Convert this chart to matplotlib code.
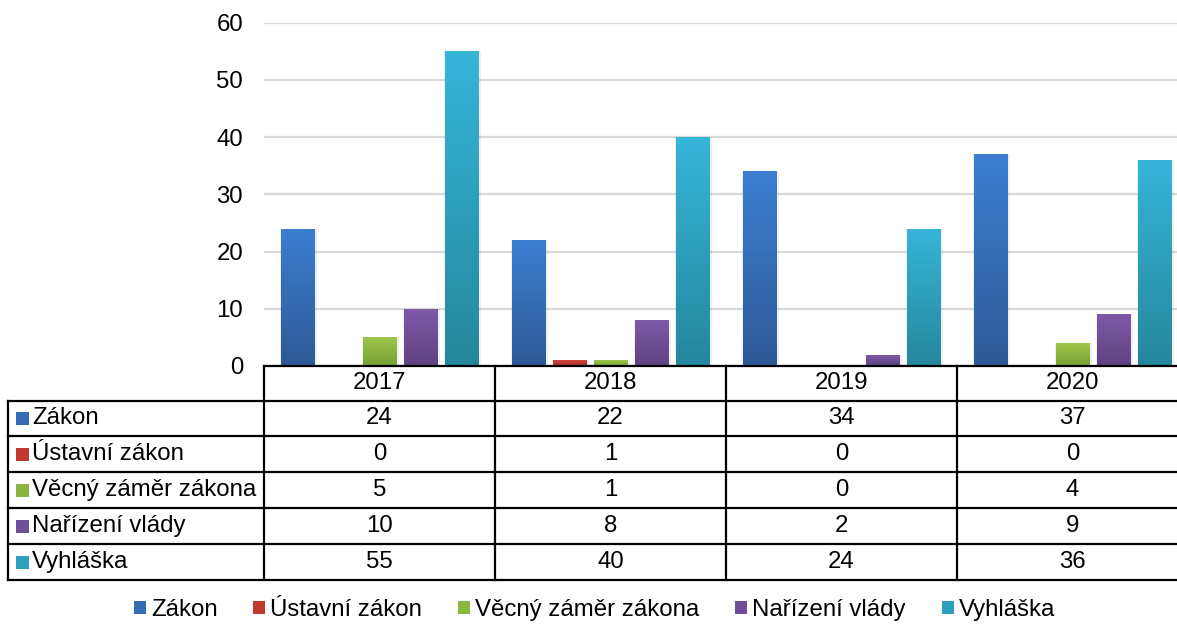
import numpy as np
import matplotlib.pyplot as plt
import matplotlib.transforms as mtransforms
from matplotlib.colors import LinearSegmentedColormap
from matplotlib.patches import Rectangle

plt.rcParams['font.family'] = ['Liberation Sans', 'DejaVu Sans']

years = ['2017', '2018', '2019', '2020']
series = ['Zákon', 'Ústavní zákon', 'Věcný záměr zákona', 'Nařízení vlády', 'Vyhláška']
zakon = [24, 22, 34, 37]
ustavni = [0, 1, 0, 0]
vecny = [5, 1, 0, 4]
narizeni = [10, 8, 2, 9]
vyhlaska = [55, 40, 24, 36]
values = [zakon, ustavni, vecny, narizeni, vyhlaska]

top_colors = ['#3c7ed2', '#d4423c', '#9ec64b', '#7e5aa8', '#36b5d9']
bot_colors = ['#2d5a96', '#a8302b', '#76a034', '#5e4280', '#25879d']
mid_colors = ['#366cb5', '#c0392f', '#8ab540', '#6e4e96', '#2ea0bd']

W, H = 1177, 624
FS = 17.3
fig = plt.figure(figsize=(W / 100, H / 100), dpi=100)
ax = fig.add_axes([264 / W, 1 - 366 / H, 924 / W, (366 - 22.5) / H])

x = np.arange(len(years))
step = 0.1775
bw = 0.147
for i, vals in enumerate(values):
    pos = x + (i - 2) * step
    # soft shadow
    ax.bar(pos + 0.004, vals, bw + 0.012, color='#000000', alpha=0.06, zorder=2)
    bars = ax.bar(pos, vals, bw, color='none', zorder=3)
    cmap = LinearSegmentedColormap.from_list('g%d' % i, [bot_colors[i], top_colors[i]])
    for b in bars:
        if b.get_height() <= 0:
            continue
        x0 = b.get_x()
        im = ax.imshow(np.linspace(0, 1, 64).reshape(-1, 1), cmap=cmap, origin='lower',
                       extent=[x0, x0 + b.get_width(), 0, b.get_height()],
                       aspect='auto', zorder=3, interpolation='bilinear')
        im.set_clip_path(b)

ax.set_xlim(-0.5, 3.5)
ax.set_ylim(0, 60)
ax.set_yticks(range(0, 61, 10))
ax.set_xticks([])
ax.yaxis.grid(True, color='#d9d9d9', lw=1.6)
ax.set_axisbelow(True)
for s in ax.spines.values():
    s.set_visible(False)
ax.tick_params(axis='y', length=0, pad=15, labelsize=FS)

# data table below the plot
def fy(py):
    return 1 - py / H

blend = mtransforms.blended_transform_factory(ax.transData, fig.transFigure)
rows = [400.7, 436.3, 472.0, 508.0, 544.0, 580.0]
lw = 1.6

fig.add_artist(plt.Line2D([-0.5, 3.6], [fy(366), fy(366)], transform=blend, color='black', lw=lw))
for r in rows:
    fig.add_artist(plt.Line2D([8 / W, 1.01], [fy(r), fy(r)], transform=fig.transFigure,
                              color='black', lw=lw))
fig.add_artist(plt.Line2D([8 / W, 8 / W], [fy(rows[0]), fy(rows[-1])],
                          transform=fig.transFigure, color='black', lw=lw))
for c in np.arange(-0.5, 3.0, 1.0):
    fig.add_artist(plt.Line2D([c, c], [fy(366), fy(rows[-1])], transform=blend,
                              color='black', lw=lw))

for j, yr in enumerate(years):
    fig.text(x[j], fy((366 + rows[0]) / 2), yr, transform=blend, ha='center', va='center',
             fontsize=FS)

for i, name in enumerate(series):
    yc = (rows[i] + rows[i + 1]) / 2
    fig.add_artist(Rectangle((16 / W, fy(yc + 6.5)), 13 / W, 13 / H, transform=fig.transFigure,
                             facecolor=mid_colors[i], edgecolor='none'))
    fig.text(32 / W, fy(yc), name, ha='left', va='center', fontsize=FS)
    for j in range(len(years)):
        fig.text(x[j], fy(yc), str(values[i][j]), transform=blend, ha='center', va='center',
                 fontsize=FS)

handles = [Rectangle((0, 0), 1, 1, facecolor=c, edgecolor='none') for c in mid_colors]
fig.legend(handles, series, loc='center', bbox_to_anchor=(0.505, fy(610)), ncol=5,
           frameon=False, fontsize=FS, handlelength=0.5, handleheight=0.5,
           handletextpad=0.2, columnspacing=1.5, borderpad=0)

fig.savefig('out.png', dpi=100)
